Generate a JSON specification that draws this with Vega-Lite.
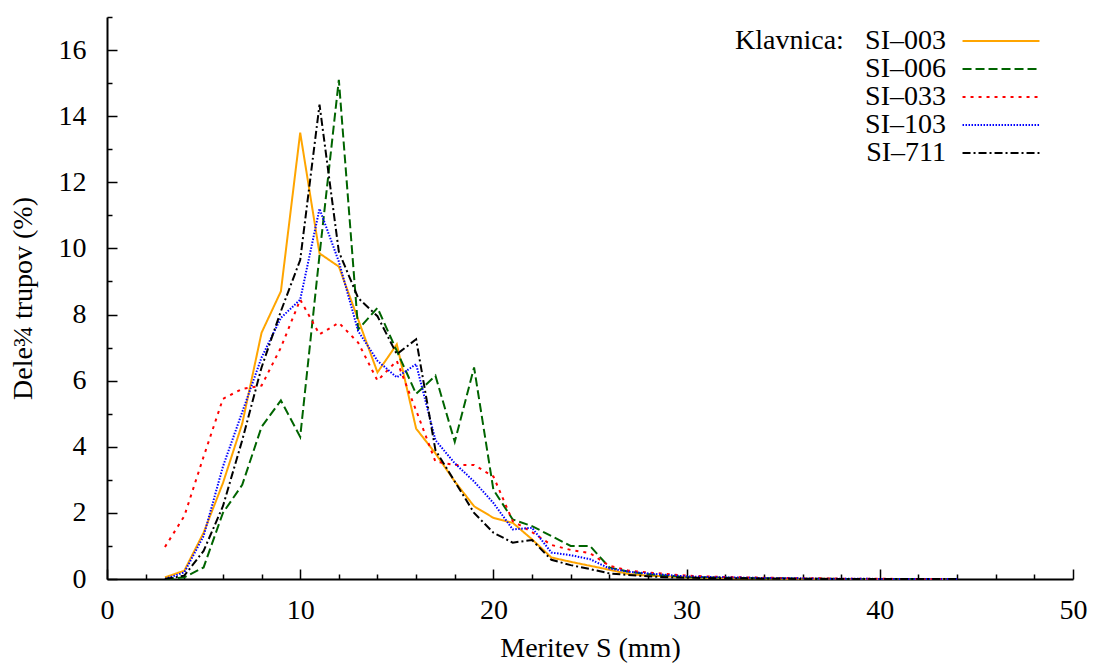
{
  "$schema": "https://vega.github.io/schema/vega-lite/v6.json",
  "width": 966,
  "height": 562,
  "autosize": {"type": "none"},
  "padding": {"left": 107, "top": 17, "right": 22, "bottom": 85},
  "background": "white",
  "config": {
    "view": {"stroke": null},
    "font": "Liberation Serif",
    "axis": {
      "labelFont": "Liberation Serif",
      "labelFontSize": 28,
      "labelColor": "black",
      "titleFont": "Liberation Serif",
      "titleFontSize": 28,
      "titleFontWeight": "normal",
      "titleColor": "black",
      "domainColor": "black",
      "domainWidth": 2,
      "tickColor": "black",
      "tickWidth": 1.5,
      "grid": false
    }
  },
  "datasets": {
    "d": [
      {"s": "SI\u2013003", "x": 3, "y": 0.05}, {"s": "SI\u2013003", "x": 4, "y": 0.25}, {"s": "SI\u2013003", "x": 5, "y": 1.4}, {"s": "SI\u2013003", "x": 6, "y": 2.9}, {"s": "SI\u2013003", "x": 7, "y": 4.7}, {"s": "SI\u2013003", "x": 8, "y": 7.45}, {"s": "SI\u2013003", "x": 9, "y": 8.7}, {"s": "SI\u2013003", "x": 10, "y": 13.5}, {"s": "SI\u2013003", "x": 11, "y": 9.85}, {"s": "SI\u2013003", "x": 12, "y": 9.45}, {"s": "SI\u2013003", "x": 13, "y": 7.85}, {"s": "SI\u2013003", "x": 14, "y": 6.25}, {"s": "SI\u2013003", "x": 15, "y": 7.1}, {"s": "SI\u2013003", "x": 16, "y": 4.55}, {"s": "SI\u2013003", "x": 17, "y": 3.8}, {"s": "SI\u2013003", "x": 18, "y": 2.95}, {"s": "SI\u2013003", "x": 19, "y": 2.2}, {"s": "SI\u2013003", "x": 20, "y": 1.85}, {"s": "SI\u2013003", "x": 21, "y": 1.7}, {"s": "SI\u2013003", "x": 22, "y": 1.2}, {"s": "SI\u2013003", "x": 23, "y": 0.65}, {"s": "SI\u2013003", "x": 24, "y": 0.52}, {"s": "SI\u2013003", "x": 25, "y": 0.4}, {"s": "SI\u2013003", "x": 26, "y": 0.28}, {"s": "SI\u2013003", "x": 27, "y": 0.15}, {"s": "SI\u2013003", "x": 28, "y": 0.1}, {"s": "SI\u2013003", "x": 29, "y": 0.08}, {"s": "SI\u2013003", "x": 30, "y": 0.05}, {"s": "SI\u2013003", "x": 31, "y": 0.04}, {"s": "SI\u2013003", "x": 32, "y": 0.03}, {"s": "SI\u2013003", "x": 33, "y": 0.02}, {"s": "SI\u2013003", "x": 34, "y": 0.02}, {"s": "SI\u2013003", "x": 35, "y": 0.01}, {"s": "SI\u2013003", "x": 36, "y": 0.01}, {"s": "SI\u2013003", "x": 37, "y": 0.01}, {"s": "SI\u2013003", "x": 38, "y": 0.0}, {"s": "SI\u2013003", "x": 39, "y": 0.0}, {"s": "SI\u2013003", "x": 40, "y": 0.0}, {"s": "SI\u2013003", "x": 41, "y": 0.0}, {"s": "SI\u2013003", "x": 42, "y": 0.0}, {"s": "SI\u2013003", "x": 43, "y": 0.0}, {"s": "SI\u2013003", "x": 44, "y": 0.0},
      {"s": "SI\u2013006", "x": 3, "y": 0.0}, {"s": "SI\u2013006", "x": 4, "y": 0.05}, {"s": "SI\u2013006", "x": 5, "y": 0.35}, {"s": "SI\u2013006", "x": 6, "y": 2.0}, {"s": "SI\u2013006", "x": 7, "y": 2.85}, {"s": "SI\u2013006", "x": 8, "y": 4.6}, {"s": "SI\u2013006", "x": 9, "y": 5.4}, {"s": "SI\u2013006", "x": 10, "y": 4.3}, {"s": "SI\u2013006", "x": 11, "y": 9.8}, {"s": "SI\u2013006", "x": 12, "y": 15.1}, {"s": "SI\u2013006", "x": 13, "y": 7.55}, {"s": "SI\u2013006", "x": 14, "y": 8.2}, {"s": "SI\u2013006", "x": 15, "y": 6.9}, {"s": "SI\u2013006", "x": 16, "y": 5.6}, {"s": "SI\u2013006", "x": 17, "y": 6.15}, {"s": "SI\u2013006", "x": 18, "y": 4.15}, {"s": "SI\u2013006", "x": 19, "y": 6.4}, {"s": "SI\u2013006", "x": 20, "y": 2.7}, {"s": "SI\u2013006", "x": 21, "y": 1.8}, {"s": "SI\u2013006", "x": 22, "y": 1.6}, {"s": "SI\u2013006", "x": 23, "y": 1.3}, {"s": "SI\u2013006", "x": 24, "y": 1.0}, {"s": "SI\u2013006", "x": 25, "y": 1.0}, {"s": "SI\u2013006", "x": 26, "y": 0.35}, {"s": "SI\u2013006", "x": 27, "y": 0.22}, {"s": "SI\u2013006", "x": 28, "y": 0.15}, {"s": "SI\u2013006", "x": 29, "y": 0.1}, {"s": "SI\u2013006", "x": 30, "y": 0.06}, {"s": "SI\u2013006", "x": 31, "y": 0.05}, {"s": "SI\u2013006", "x": 32, "y": 0.04}, {"s": "SI\u2013006", "x": 33, "y": 0.03}, {"s": "SI\u2013006", "x": 34, "y": 0.02}, {"s": "SI\u2013006", "x": 35, "y": 0.02}, {"s": "SI\u2013006", "x": 36, "y": 0.01}, {"s": "SI\u2013006", "x": 37, "y": 0.01}, {"s": "SI\u2013006", "x": 38, "y": 0.0}, {"s": "SI\u2013006", "x": 39, "y": 0.0}, {"s": "SI\u2013006", "x": 40, "y": 0.0}, {"s": "SI\u2013006", "x": 41, "y": 0.0}, {"s": "SI\u2013006", "x": 42, "y": 0.0}, {"s": "SI\u2013006", "x": 43, "y": 0.0}, {"s": "SI\u2013006", "x": 44, "y": 0.0},
      {"s": "SI\u2013033", "x": 3, "y": 0.97}, {"s": "SI\u2013033", "x": 4, "y": 1.9}, {"s": "SI\u2013033", "x": 5, "y": 3.7}, {"s": "SI\u2013033", "x": 6, "y": 5.45}, {"s": "SI\u2013033", "x": 7, "y": 5.75}, {"s": "SI\u2013033", "x": 8, "y": 5.85}, {"s": "SI\u2013033", "x": 9, "y": 7.0}, {"s": "SI\u2013033", "x": 10, "y": 8.45}, {"s": "SI\u2013033", "x": 11, "y": 7.4}, {"s": "SI\u2013033", "x": 12, "y": 7.75}, {"s": "SI\u2013033", "x": 13, "y": 7.15}, {"s": "SI\u2013033", "x": 14, "y": 6.0}, {"s": "SI\u2013033", "x": 15, "y": 6.6}, {"s": "SI\u2013033", "x": 16, "y": 5.1}, {"s": "SI\u2013033", "x": 17, "y": 3.55}, {"s": "SI\u2013033", "x": 18, "y": 3.45}, {"s": "SI\u2013033", "x": 19, "y": 3.45}, {"s": "SI\u2013033", "x": 20, "y": 3.1}, {"s": "SI\u2013033", "x": 21, "y": 1.75}, {"s": "SI\u2013033", "x": 22, "y": 1.42}, {"s": "SI\u2013033", "x": 23, "y": 1.03}, {"s": "SI\u2013033", "x": 24, "y": 0.88}, {"s": "SI\u2013033", "x": 25, "y": 0.78}, {"s": "SI\u2013033", "x": 26, "y": 0.4}, {"s": "SI\u2013033", "x": 27, "y": 0.25}, {"s": "SI\u2013033", "x": 28, "y": 0.2}, {"s": "SI\u2013033", "x": 29, "y": 0.15}, {"s": "SI\u2013033", "x": 30, "y": 0.1}, {"s": "SI\u2013033", "x": 31, "y": 0.08}, {"s": "SI\u2013033", "x": 32, "y": 0.06}, {"s": "SI\u2013033", "x": 33, "y": 0.05}, {"s": "SI\u2013033", "x": 34, "y": 0.04}, {"s": "SI\u2013033", "x": 35, "y": 0.03}, {"s": "SI\u2013033", "x": 36, "y": 0.02}, {"s": "SI\u2013033", "x": 37, "y": 0.02}, {"s": "SI\u2013033", "x": 38, "y": 0.01}, {"s": "SI\u2013033", "x": 39, "y": 0.01}, {"s": "SI\u2013033", "x": 40, "y": 0.01}, {"s": "SI\u2013033", "x": 41, "y": 0.0}, {"s": "SI\u2013033", "x": 42, "y": 0.0}, {"s": "SI\u2013033", "x": 43, "y": 0.0}, {"s": "SI\u2013033", "x": 44, "y": 0.0},
      {"s": "SI\u2013103", "x": 3, "y": 0.0}, {"s": "SI\u2013103", "x": 4, "y": 0.2}, {"s": "SI\u2013103", "x": 5, "y": 1.3}, {"s": "SI\u2013103", "x": 6, "y": 3.4}, {"s": "SI\u2013103", "x": 7, "y": 5.05}, {"s": "SI\u2013103", "x": 8, "y": 6.7}, {"s": "SI\u2013103", "x": 9, "y": 7.9}, {"s": "SI\u2013103", "x": 10, "y": 8.45}, {"s": "SI\u2013103", "x": 11, "y": 11.2}, {"s": "SI\u2013103", "x": 12, "y": 9.6}, {"s": "SI\u2013103", "x": 13, "y": 7.5}, {"s": "SI\u2013103", "x": 14, "y": 6.6}, {"s": "SI\u2013103", "x": 15, "y": 6.1}, {"s": "SI\u2013103", "x": 16, "y": 6.5}, {"s": "SI\u2013103", "x": 17, "y": 4.2}, {"s": "SI\u2013103", "x": 18, "y": 3.5}, {"s": "SI\u2013103", "x": 19, "y": 2.95}, {"s": "SI\u2013103", "x": 20, "y": 2.3}, {"s": "SI\u2013103", "x": 21, "y": 1.5}, {"s": "SI\u2013103", "x": 22, "y": 1.55}, {"s": "SI\u2013103", "x": 23, "y": 0.8}, {"s": "SI\u2013103", "x": 24, "y": 0.72}, {"s": "SI\u2013103", "x": 25, "y": 0.6}, {"s": "SI\u2013103", "x": 26, "y": 0.32}, {"s": "SI\u2013103", "x": 27, "y": 0.22}, {"s": "SI\u2013103", "x": 28, "y": 0.17}, {"s": "SI\u2013103", "x": 29, "y": 0.12}, {"s": "SI\u2013103", "x": 30, "y": 0.08}, {"s": "SI\u2013103", "x": 31, "y": 0.06}, {"s": "SI\u2013103", "x": 32, "y": 0.05}, {"s": "SI\u2013103", "x": 33, "y": 0.04}, {"s": "SI\u2013103", "x": 34, "y": 0.03}, {"s": "SI\u2013103", "x": 35, "y": 0.02}, {"s": "SI\u2013103", "x": 36, "y": 0.02}, {"s": "SI\u2013103", "x": 37, "y": 0.01}, {"s": "SI\u2013103", "x": 38, "y": 0.01}, {"s": "SI\u2013103", "x": 39, "y": 0.01}, {"s": "SI\u2013103", "x": 40, "y": 0.0}, {"s": "SI\u2013103", "x": 41, "y": 0.0}, {"s": "SI\u2013103", "x": 42, "y": 0.0}, {"s": "SI\u2013103", "x": 43, "y": 0.0}, {"s": "SI\u2013103", "x": 44, "y": 0.0},
      {"s": "SI\u2013711", "x": 3, "y": 0.0}, {"s": "SI\u2013711", "x": 4, "y": 0.1}, {"s": "SI\u2013711", "x": 5, "y": 0.85}, {"s": "SI\u2013711", "x": 6, "y": 2.2}, {"s": "SI\u2013711", "x": 7, "y": 4.2}, {"s": "SI\u2013711", "x": 8, "y": 6.4}, {"s": "SI\u2013711", "x": 9, "y": 8.1}, {"s": "SI\u2013711", "x": 10, "y": 9.65}, {"s": "SI\u2013711", "x": 11, "y": 14.35}, {"s": "SI\u2013711", "x": 12, "y": 9.9}, {"s": "SI\u2013711", "x": 13, "y": 8.5}, {"s": "SI\u2013711", "x": 14, "y": 7.95}, {"s": "SI\u2013711", "x": 15, "y": 6.8}, {"s": "SI\u2013711", "x": 16, "y": 7.25}, {"s": "SI\u2013711", "x": 17, "y": 3.9}, {"s": "SI\u2013711", "x": 18, "y": 2.95}, {"s": "SI\u2013711", "x": 19, "y": 2.0}, {"s": "SI\u2013711", "x": 20, "y": 1.4}, {"s": "SI\u2013711", "x": 21, "y": 1.1}, {"s": "SI\u2013711", "x": 22, "y": 1.18}, {"s": "SI\u2013711", "x": 23, "y": 0.58}, {"s": "SI\u2013711", "x": 24, "y": 0.42}, {"s": "SI\u2013711", "x": 25, "y": 0.3}, {"s": "SI\u2013711", "x": 26, "y": 0.17}, {"s": "SI\u2013711", "x": 27, "y": 0.12}, {"s": "SI\u2013711", "x": 28, "y": 0.08}, {"s": "SI\u2013711", "x": 29, "y": 0.05}, {"s": "SI\u2013711", "x": 30, "y": 0.04}, {"s": "SI\u2013711", "x": 31, "y": 0.03}, {"s": "SI\u2013711", "x": 32, "y": 0.02}, {"s": "SI\u2013711", "x": 33, "y": 0.02}, {"s": "SI\u2013711", "x": 34, "y": 0.01}, {"s": "SI\u2013711", "x": 35, "y": 0.01}, {"s": "SI\u2013711", "x": 36, "y": 0.0}, {"s": "SI\u2013711", "x": 37, "y": 0.0}, {"s": "SI\u2013711", "x": 38, "y": 0.0}, {"s": "SI\u2013711", "x": 39, "y": 0.0}, {"s": "SI\u2013711", "x": 40, "y": 0.0}, {"s": "SI\u2013711", "x": 41, "y": 0.0}, {"s": "SI\u2013711", "x": 42, "y": 0.0}, {"s": "SI\u2013711", "x": 43, "y": 0.0}, {"s": "SI\u2013711", "x": 44, "y": 0.0}
    ]
  },
  "data": {"name": "d"},
  "mark": {"type": "line", "strokeWidth": 2, "strokeCap": "butt"},
  "encoding": {
    "x": {
      "field": "x",
      "type": "quantitative",
      "scale": {"domain": [0, 50], "nice": false, "zero": false},
      "axis": {
        "title": "Meritev S (mm)",
        "format": "d",
        "labelFont": "Liberation Serif",
        "labelFontSize": 28,
        "titleFont": "Liberation Serif",
        "titleFontSize": 28,
        "values": [0, 2, 4, 6, 8, 10, 12, 14, 16, 18, 20, 22, 24, 26, 28, 30, 32, 34, 36, 38, 40, 42, 44, 46, 48, 50],
        "labelExpr": "datum.value % 10 === 0 ? format(datum.value, 'd') : ''",
        "tickSize": {"condition": {"test": "datum.value % 10 === 0", "value": -10}, "value": -5},
        "labelPadding": 27,
        "titlePadding": 5,
        "labelFlush": false,
        "labelOverlap": false
      }
    },
    "y": {
      "field": "y",
      "type": "quantitative",
      "scale": {"domain": [0, 17], "nice": false},
      "axis": {
        "title": "Dele\u00be trupov (%)",
        "format": "d",
        "labelFont": "Liberation Serif",
        "labelFontSize": 28,
        "titleFont": "Liberation Serif",
        "titleFontSize": 28,
        "values": [0, 0.5, 1, 1.5, 2, 2.5, 3, 3.5, 4, 4.5, 5, 5.5, 6, 6.5, 7, 7.5, 8, 8.5, 9, 9.5, 10, 10.5, 11, 11.5, 12, 12.5, 13, 13.5, 14, 14.5, 15, 15.5, 16, 16.5, 17],
        "labelExpr": "datum.value % 2 === 0 ? format(datum.value, 'd') : ''",
        "tickSize": {"condition": {"test": "datum.value % 2 === 0", "value": -10}, "value": -5},
        "labelPadding": 31,
        "titlePadding": 21,
        "labelFlush": false,
        "labelOverlap": false
      }
    },
    "color": {
      "field": "s",
      "type": "nominal",
      "scale": {
        "domain": ["SI\u2013003", "SI\u2013006", "SI\u2013033", "SI\u2013103", "SI\u2013711"],
        "range": ["#FFA500", "#006400", "#FF0000", "#0000FF", "#000000"]
      },
      "legend": {
        "title": "Klavnica:",
        "orient": "none",
        "legendX": 628,
        "legendY": 10,
        "padding": 0,
        "titleOrient": "left",
        "titleAnchor": "start",
        "titleBaseline": "top",
        "titleFont": "Liberation Serif",
        "titleFontSize": 28,
        "titleFontWeight": "normal",
        "titleColor": "black",
        "titlePadding": 143,
        "labelFont": "Liberation Serif",
        "labelFontSize": 28,
        "labelColor": "black",
        "labelAlign": "right",
        "labelOffset": -69,
        "symbolType": "M-4,0H4",
        "symbolSize": 370,
        "symbolStrokeWidth": 2,
        "rowPadding": -0.5
      }
    },
    "strokeDash": {
      "field": "s",
      "type": "nominal",
      "scale": {
        "domain": ["SI\u2013003", "SI\u2013006", "SI\u2013033", "SI\u2013103", "SI\u2013711"],
        "range": [[1, 0], [9, 4], [3, 5], [1.5, 1.5], [8, 3, 2, 3]]
      },
      "legend": {
        "title": "Klavnica:",
        "orient": "none",
        "legendX": 628,
        "legendY": 10,
        "padding": 0,
        "titleOrient": "left",
        "titleAnchor": "start",
        "titleBaseline": "top",
        "titleFont": "Liberation Serif",
        "titleFontSize": 28,
        "titleFontWeight": "normal",
        "titleColor": "black",
        "titlePadding": 143,
        "labelFont": "Liberation Serif",
        "labelFontSize": 28,
        "labelColor": "black",
        "labelAlign": "right",
        "labelOffset": -69,
        "symbolType": "M-4,0H4",
        "symbolSize": 370,
        "symbolStrokeWidth": 2,
        "rowPadding": -0.5
      }
    }
  }
}
